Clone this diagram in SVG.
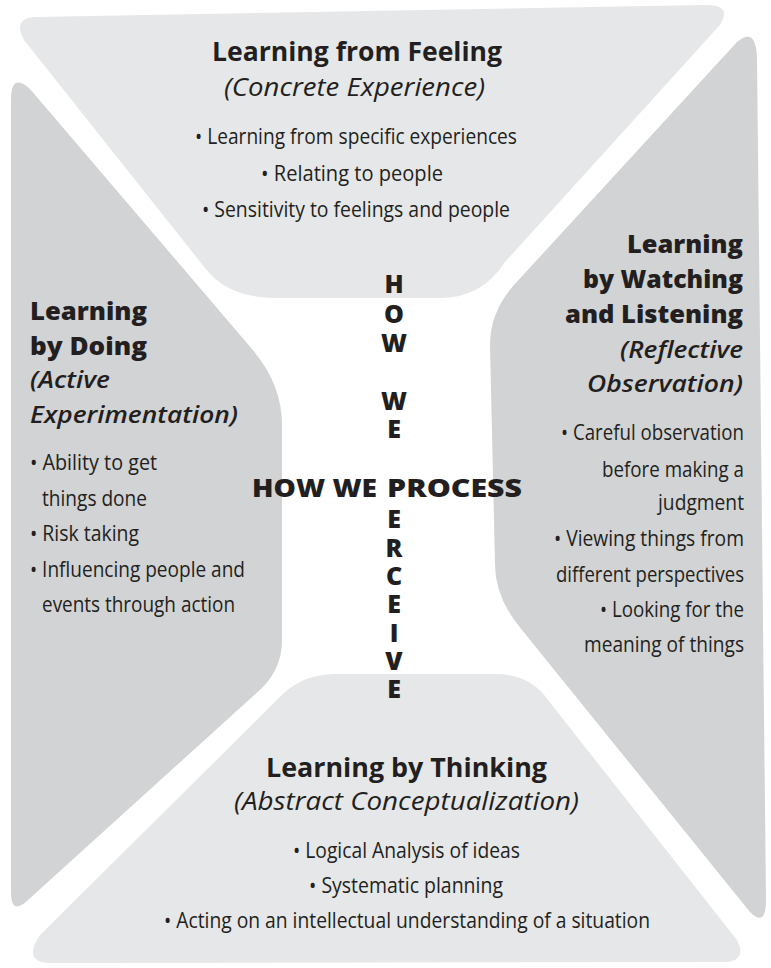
<svg xmlns="http://www.w3.org/2000/svg" width="771" height="968" viewBox="0 0 771 968">
<style>
.light{fill:#e6e7e8}
.mid{fill:#d1d3d4}
text{font-family:'Open Sans','Noto Sans','Liberation Sans',sans-serif;fill:#231f20}
.h1{font-size:27px;font-weight:700}
.sub{font-size:25px;font-style:italic}
.b{font-size:22px}
.hv{font-size:24px;font-weight:800}
.hi{font-size:24px;font-style:italic;font-weight:600}
.c{font-size:25px;font-weight:800}
.v{font-size:25px;font-weight:800;text-anchor:middle}
</style>
<rect width="771" height="968" fill="#ffffff"/>
<g id="feeling">
<path class="light" d="M 36,17 L 704,5 Q 734,4 719,26 L 505,262 Q 482,298 440,298 L 276,298 Q 228,298 205,268 L 24,40 Q 12,18 36,17 Z"/>
<text class="h1" x="212" y="61" textLength="290" lengthAdjust="spacingAndGlyphs">Learning from Feeling</text>
<text class="sub" x="224" y="96" textLength="261" lengthAdjust="spacingAndGlyphs">(Concrete Experience)</text>
<text class="b" x="195" y="144" textLength="322" lengthAdjust="spacingAndGlyphs">• Learning from specific experiences</text>
<text class="b" x="261" y="181" textLength="182" lengthAdjust="spacingAndGlyphs">• Relating to people</text>
<text class="b" x="202" y="217" textLength="308" lengthAdjust="spacingAndGlyphs">• Sensitivity to feelings and people</text>
</g>
<g id="doing">
<path class="mid" d="M 11,100 Q 11,72 30,89 L 252,349 Q 282,384 282,425 L 282,640 Q 282,668 262,688 L 28,900 Q 11,916 11,892 Z"/>
<text class="hv" x="30" y="320" textLength="117" lengthAdjust="spacingAndGlyphs">Learning</text>
<text class="hv" x="30" y="355" textLength="117" lengthAdjust="spacingAndGlyphs">by Doing</text>
<text class="hi" x="30" y="388" textLength="80" lengthAdjust="spacingAndGlyphs">(Active</text>
<text class="hi" x="30" y="423" textLength="208" lengthAdjust="spacingAndGlyphs">Experimentation)</text>
<text class="b" x="30" y="470" textLength="127" lengthAdjust="spacingAndGlyphs">• Ability to get</text>
<text class="b" x="42" y="506" textLength="105" lengthAdjust="spacingAndGlyphs">things done</text>
<text class="b" x="30" y="541" textLength="109" lengthAdjust="spacingAndGlyphs">• Risk taking</text>
<text class="b" x="30" y="577" textLength="215" lengthAdjust="spacingAndGlyphs">• Influencing people and</text>
<text class="b" x="42" y="612" textLength="193" lengthAdjust="spacingAndGlyphs">events through action</text>
</g>
<g id="watching">
<path class="mid" d="M 737,42 Q 756,26 757,58 L 766,900 Q 766,928 750,912 L 522,630 Q 495,598 495,565 L 490,345 Q 490,312 514,285 Z"/>
<text class="hv" x="627" y="253" textLength="116" lengthAdjust="spacingAndGlyphs">Learning</text>
<text class="hv" x="583" y="288" textLength="160" lengthAdjust="spacingAndGlyphs">by Watching</text>
<text class="hv" x="565" y="323" textLength="178" lengthAdjust="spacingAndGlyphs">and Listening</text>
<text class="hi" x="620" y="358" textLength="123" lengthAdjust="spacingAndGlyphs">(Reflective</text>
<text class="hi" x="587" y="392" textLength="156" lengthAdjust="spacingAndGlyphs">Observation)</text>
<text class="b" x="561" y="440" textLength="183" lengthAdjust="spacingAndGlyphs">• Careful observation</text>
<text class="b" x="602" y="477" textLength="142" lengthAdjust="spacingAndGlyphs">before making a</text>
<text class="b" x="658" y="510" textLength="86" lengthAdjust="spacingAndGlyphs">judgment</text>
<text class="b" x="554" y="546" textLength="190" lengthAdjust="spacingAndGlyphs">• Viewing things from</text>
<text class="b" x="556" y="582" textLength="188" lengthAdjust="spacingAndGlyphs">different perspectives</text>
<text class="b" x="600" y="617" textLength="144" lengthAdjust="spacingAndGlyphs">• Looking for the</text>
<text class="b" x="584" y="652" textLength="160" lengthAdjust="spacingAndGlyphs">meaning of things</text>
</g>
<g id="thinking">
<path class="light" d="M 335,674 L 495,674 Q 530,674 548,700 L 737,940 Q 748,962 722,962 L 50,963 Q 22,962 40,935 L 277,700 Q 300,674 335,674 Z"/>
<text class="h1" x="266" y="777" textLength="281" lengthAdjust="spacingAndGlyphs">Learning by Thinking</text>
<text class="sub" x="234" y="810" textLength="345" lengthAdjust="spacingAndGlyphs">(Abstract Conceptualization)</text>
<text class="b" x="293" y="858" textLength="227" lengthAdjust="spacingAndGlyphs">• Logical Analysis of ideas</text>
<text class="b" x="309" y="893" textLength="194" lengthAdjust="spacingAndGlyphs">• Systematic planning</text>
<text class="b" x="164" y="928" textLength="486" lengthAdjust="spacingAndGlyphs">• Acting on an intellectual understanding of a situation</text>
</g>
<g id="axes">
<text class="c" y="497"><tspan x="252" textLength="125" lengthAdjust="spacingAndGlyphs">HOW WE</tspan> <tspan x="387" textLength="135" lengthAdjust="spacingAndGlyphs">PROCESS</tspan></text>
<text class="v"><tspan x="394" y="293">H</tspan><tspan x="394" y="323">O</tspan><tspan x="394" y="352">W</tspan><tspan x="394" y="410">W</tspan><tspan x="394" y="438">E</tspan><tspan x="394" y="528">E</tspan><tspan x="394" y="557">R</tspan><tspan x="394" y="585">C</tspan><tspan x="394" y="613">E</tspan><tspan x="394" y="642">I</tspan><tspan x="394" y="670">V</tspan><tspan x="394" y="698">E</tspan></text>
</g>
</svg>
